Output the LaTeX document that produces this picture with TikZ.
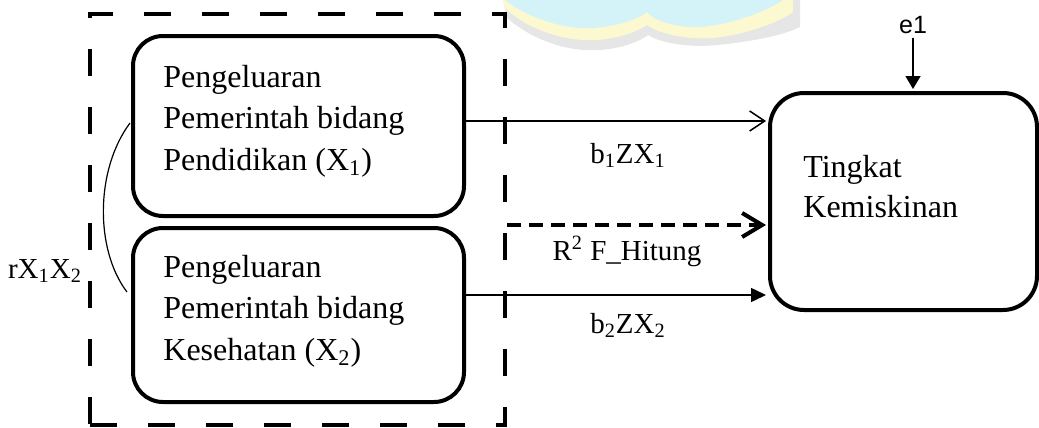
\documentclass[tikz,border=0pt]{standalone}
\usepackage{fontspec}
\setmainfont{Liberation Serif}
\newfontfamily\arialf{Liberation Sans}
\usetikzlibrary{arrows.meta,calc}
\definecolor{wmgray}{HTML}{E6E6E6}
\definecolor{wmyellow}{HTML}{FCF8CF}
\definecolor{wmblue}{HTML}{D4F3F9}
\begin{document}
\begin{tikzpicture}[x=0.5pt,y=-0.5pt,
  rbox/.style={draw, line width=2pt, rounded corners=15pt, inner sep=0pt},
  grpbox/.style={draw, line width=2.25pt, dash pattern=on 13.5pt off 15.5pt, inner sep=0pt},
  boxtxt/.style={font=\fontsize{16}{19}\selectfont, inner sep=0pt, anchor=base west},
  lbl/.style={font=\fontsize{14.5}{17}\selectfont, inner sep=0pt, anchor=base},
  thinarr/.style={line width=0.75pt, shorten >=1pt, -{Straight Barb[length=7.5pt,width=10pt]}},
  dasharr/.style={line width=2pt, dash pattern=on 7pt off 4pt, shorten >=1pt, -{Straight Barb[length=10pt,width=12pt,line width=2pt]}},
  triarr/.style={line width=0.75pt, shorten >=1pt, -{Triangle[length=7.5pt,width=7pt]}},
  triarrv/.style={line width=0.75pt, shorten >=1pt, -{Triangle[length=6.5pt,width=7.5pt]}},
  curvel/.style={line width=0.6pt}
]
\useasboundingbox (0,0) rectangle (1039,428);
% faint watermark
\fill[wmgray] (503,0) -- (507,18) .. controls (535,42) and (570,52) .. (600,50) .. controls (625,48) and (642,40) .. (648,35) .. controls (660,43) and (690,48) .. (717,45) .. controls (750,42) and (785,35) .. (800,27) -- (800,0) -- cycle;
\fill[wmyellow] (503,0) -- (505,8) .. controls (530,32) and (570,42) .. (597,40) .. controls (622,38) and (640,30) .. (647,25) .. controls (657,33) and (685,40) .. (713,38) .. controls (745,35) and (780,22) .. (793,12) -- (793,0) -- cycle;
\fill[wmblue] (505,0) .. controls (530,20) and (570,30) .. (593,28) .. controls (620,26) and (640,18) .. (647,12) .. controls (655,22) and (680,28) .. (700,27) .. controls (730,25) and (765,12) .. (783,0) -- cycle;

% boxes
\node[grpbox, minimum width=207.5pt, minimum height=205.5pt] (grp) at (297.5,219.5) {};
\node[rbox, minimum width=165.5pt, minimum height=90pt] (x1) at (298.5,126) {};
\node[rbox, minimum width=165.5pt, minimum height=87pt] (x2) at (298.5,315) {};
\node[rbox, rounded corners=17pt, minimum width=133.5pt, minimum height=108.5pt] (tk) at (903.5,201.5) {};

% box texts
\node[boxtxt] (t1a) at (163,87) {Pengeluaran};
\node[boxtxt] (t1b) at (163,128.5) {Pemerintah bidang};
\node[boxtxt] (t1c) at (163,170) {Pendidikan (X\textsubscript{1})};
\node[boxtxt] (t2a) at (163,277) {Pengeluaran};
\node[boxtxt] (t2b) at (163,318.5) {Pemerintah bidang};
\node[boxtxt] (t2c) at (163,360) {Kesehatan (X\textsubscript{2})};
\node[boxtxt] (t3a) at (803,177) {Tingkat};
\node[boxtxt] (t3b) at (803,217) {Kemiskinan};

% labels
\node[lbl] (l1) at (628,163) {b\textsubscript{1}ZX\textsubscript{1}};
\node[lbl] (l2) at (627,260) {R\textsuperscript{2} F\_Hitung};
\node[lbl] (l3) at (628,333) {b\textsubscript{2}ZX\textsubscript{2}};
\node[lbl] (lr) at (45,278) {rX\textsubscript{1}X\textsubscript{2}};
\node[font=\arialf\fontsize{12.5}{15}\selectfont, inner sep=2pt, anchor=base] (e1) at (913,33) {e1};

% connectors
\coordinate (p1) at ([yshift=2.5pt]x1.east);
\draw[thinarr] (p1) -- (p1 -| tk.west);
\coordinate (p2) at ([yshift=-2.75pt]grp.east);
\draw[dasharr] (p2) -- (p2 -| tk.west);
\coordinate (p3) at ([yshift=10pt]x2.east);
\draw[triarr] (p3) -- (p3 -| tk.west);
\draw[triarrv] (e1.south) -- (e1.south |- tk.north);

\coordinate (c1) at (130,123);
\coordinate (c2) at (127,292);
\draw[curvel] (c1) .. controls (95,170) and (95,250) .. (c2);
\end{tikzpicture}
\end{document}
